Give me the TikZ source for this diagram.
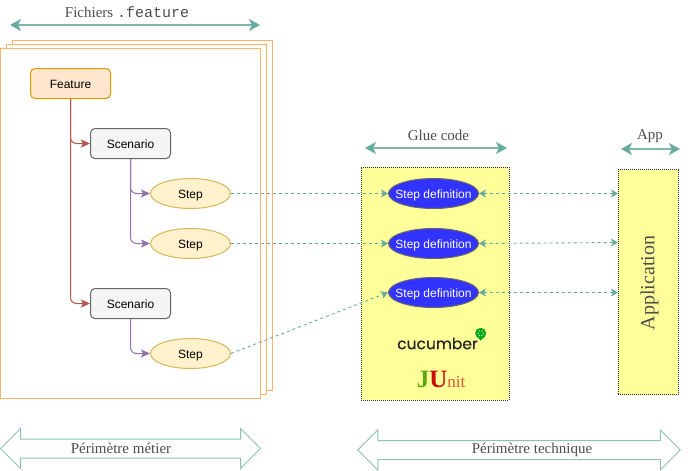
\documentclass[tikz,border=0pt]{standalone}
\usepackage{fontspec}
\setmainfont{Liberation Serif}
\setsansfont{Liberation Sans}
\setmonofont{Liberation Mono}
\newfontfamily\logofont[RawFeature={embolden=0.4}]{Poppins}
\usetikzlibrary{shapes,shapes.arrows,arrows.meta}

\definecolor{tealline}{HTML}{67AB9F}
\definecolor{labelgray}{HTML}{4D4D4D}
\definecolor{stackline}{HTML}{FFB366}
\definecolor{featurefill}{HTML}{FFE6CC}
\definecolor{featureline}{HTML}{D79B00}
\definecolor{scenariofill}{HTML}{F5F5F5}
\definecolor{scenarioline}{HTML}{666666}
\definecolor{stepfill}{HTML}{FFF2CC}
\definecolor{stepline}{HTML}{D6B656}
\definecolor{redline}{HTML}{B85450}
\definecolor{purpleline}{HTML}{9673A6}
\definecolor{deffill}{HTML}{3333FF}
\definecolor{gluefill}{HTML}{FFFF99}
\definecolor{leafgreen}{HTML}{00A818}
\definecolor{junitgreen}{HTML}{5FA512}
\definecolor{junitred}{HTML}{CC0A0A}
\definecolor{junitnit}{HTML}{E5533D}

\tikzset{
  sheet/.style={draw=stackline,fill=white,line width=1pt},
  featurebox/.style={rectangle,rounded corners=4.5pt,minimum width=80pt,minimum height=30pt,inner sep=0pt,text height=9pt,text depth=0pt,font=\sffamily\fontsize{12}{14}\selectfont,line width=1pt},
  stepnode/.style={draw=#1,ellipse,minimum width=80pt,minimum height=30pt,inner sep=0pt,text height=9pt,text depth=0pt,font=\sffamily\fontsize{12}{14}\selectfont,line width=1pt},
  gluebox/.style={draw=black!80,fill=gluefill,rectangle,dash pattern=on 1pt off 1pt,line width=1pt,inner sep=0pt},
  toplabel/.style={text=labelgray,font=\fontsize{15}{18}\selectfont},
  bigarrow/.style={line width=2pt,draw=tealline!85!white,{Stealth[length=11pt,width=12pt,inset=3pt,color=tealline]}-{Stealth[length=11pt,width=12pt,inset=3pt,color=tealline]}},
  linkarrow/.style={draw=tealline,line width=.9pt,dash pattern=on 3pt off 3pt,-{Stealth[length=7pt,width=8pt,inset=2pt,color=tealline]}},
  linkboth/.style={linkarrow,{Stealth[length=7pt,width=8pt,inset=2pt,color=tealline]}-{Stealth[length=7pt,width=8pt,inset=2pt,color=tealline]}},
  treearrow/.style={draw=#1,line width=1pt,rounded corners=6pt,-{Stealth[length=9pt,width=8pt,inset=2pt,color=#1]}},
  blockarrow/.style={draw=tealline!75!white,fill=white,double arrow,line width=1pt,inner xsep=0pt,inner ysep=9pt,minimum height=#1,double arrow head extend=10.5pt}
}

\begin{document}
\begin{tikzpicture}[x=1pt,y=-1pt]
\useasboundingbox (0,0) rectangle (691,471);

% pile de fichiers
\draw[sheet] (12.5,40.5) rectangle (272.5,390.5);
\draw[sheet] (6.5,44.5) rectangle (266.5,394.5);
\draw[sheet] (0.5,48.5) rectangle (260.5,398.5);

\path (70.5,83.5) node[featurebox,fill=featurefill,draw=featureline] (feature) {Feature};
\path (130.5,143.5) node[featurebox,fill=scenariofill,draw=scenarioline] (scenario1) {Scenario};
\path (130.5,303.5) node[featurebox,fill=scenariofill,draw=scenarioline] (scenario2) {Scenario};

\foreach \Name/\y in {step1/193.5,step2/243.5,step3/353.5}{
    \path (190.5,\y) node[stepnode=stepline,fill=stepfill] (\Name) {Step};
}

\draw[treearrow=redline] (feature.south) |- (scenario1.west);
\draw[treearrow=redline] (feature.south) |- (scenario2.west);
\draw[treearrow=purpleline] (scenario1.south) |- (step1.west);
\draw[treearrow=purpleline] (scenario1.south) |- (step2.west);
\draw[treearrow=purpleline] (scenario2.south) |- (step3.west);

% glue code et application
\path (435,283.5) node[gluebox,minimum width=148pt,minimum height=233pt] (glue) {};
\path (648,282.4) node[gluebox,minimum width=60pt,minimum height=225pt] (application) {};
\path (649.5,283) node[rotate=90,text=labelgray,font=\fontsize{20}{24}\selectfont] (applicationlabel) {Application};

\foreach \Name/\y in {def1/193.5,def2/243.5,def3/292.5}{
    \path (433.5,\y) node[stepnode=black!60,fill=deffill,text=white,minimum width=90pt,inner xsep=-10pt] (\Name) {Step definition};
}

\path (618,193.5) coordinate (app1);
\path (618,242.5) coordinate (app2);
\path (618,292.5) coordinate (app3);

\draw[linkarrow] (step1.east) -- (def1.west);
\draw[linkarrow] (step2.east) -- (def2.west);
\draw[linkarrow] (step3.east) -- (def3.west);
\draw[linkboth] (def1.east) -- (app1);
\draw[linkboth] (def2.east) -- (app2);
\draw[linkboth] (def3.east) -- (app3);

% logos
\path (437.5,343.5) node[inner sep=0pt,font=\logofont\fontsize{15.5}{18}\selectfont,text=black!85] (cucumber) {cucumber};
\fill[leafgreen] (476.5,336) -- (480.7,340.5) -- (485,336) -- cycle;
\path (480.7,333.3) node[circle,fill=leafgreen,minimum size=11pt,inner sep=0pt] (leaf) {};
\foreach \a in {0,60,...,300}{
    \fill[white] (leaf.center) +(\a:2.6) circle (.6);
}
\path (441,379) node[inner sep=0pt,font=\bfseries] (junit) {{\fontsize{25}{28}\selectfont\textcolor{junitgreen}{J}\textcolor{junitred}{U}}{\fontsize{17}{20}\mdseries\selectfont\textcolor{junitnit}{nit}}};

% fleches de perimetre
\path (10,25) coordinate (fichiersA);
\path (260,25) coordinate (fichiersB);
\path (365,148) coordinate (glueA);
\path (507,148) coordinate (glueB);
\path (621,149) coordinate (appA);
\path (680,149) coordinate (appB);
\draw[bigarrow] (fichiersA) -- (fichiersB);
\draw[bigarrow] (glueA) -- (glueB);
\draw[bigarrow] (appA) -- (appB);

\path (127,12) node[toplabel] (fichiers) {Fichiers \texttt{.feature}};
\path (438.5,135) node[toplabel] (gluelabel) {Glue code};
\path (650,136) node[toplabel] (applabel) {App};

\path (130.5,448.5) node[blockarrow=260pt] (metier) {};
\path (519,450) node[blockarrow=322.5pt] (technique) {};
\path (121,448) node[toplabel] (metierlabel) {Périmètre métier};
\path (532,450) node[toplabel] (techniquelabel) {Périmètre technique};
\end{tikzpicture}
\end{document}
